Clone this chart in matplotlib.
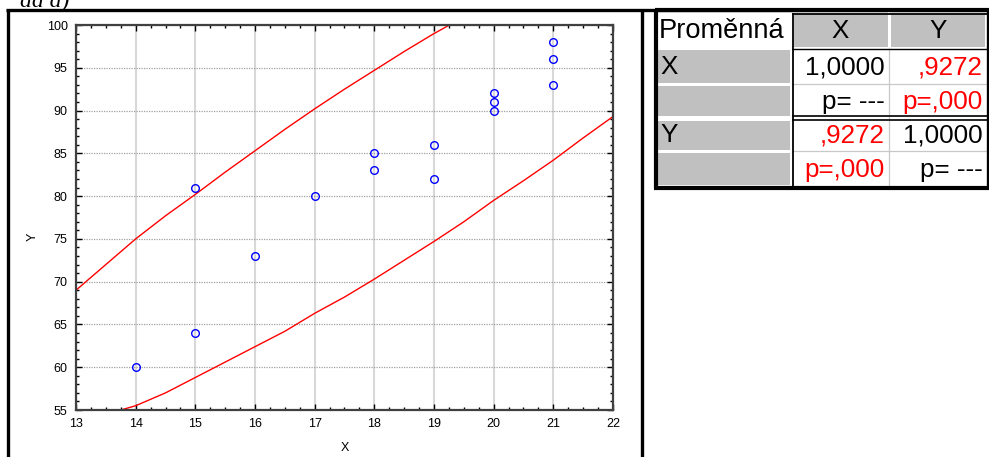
import matplotlib
matplotlib.use("Agg")
import matplotlib.pyplot as plt
from matplotlib.ticker import AutoMinorLocator
from matplotlib.patches import Rectangle
from matplotlib.lines import Line2D

plt.rcParams['font.family'] = ['Liberation Sans', 'DejaVu Sans']

# ---- data ----
x_vals = [14, 15, 15, 16, 17, 18, 18, 19, 19, 20, 20, 20, 21, 21, 21]
y_vals = [60, 64, 81, 73, 80, 83, 85, 82, 86, 90, 91, 92, 93, 96, 98]

upper_x = [13, 13.5, 14, 14.5, 15, 15.5, 16, 16.5, 17, 17.5, 18, 18.5, 19, 19.26]
upper_y = [69.0, 72.0, 75.0, 77.7, 80.2, 82.8, 85.3, 87.8, 90.2, 92.5, 94.7, 96.9, 99.0, 100.0]
lower_x = [13.75, 14, 14.5, 15, 15.5, 16, 16.5, 17, 17.5, 18, 18.5, 19, 19.5, 20, 20.5, 21, 21.5, 22]
lower_y = [55.0, 55.5, 57.0, 58.8, 60.6, 62.4, 64.2, 66.3, 68.2, 70.3, 72.5, 74.7, 77.0, 79.5, 81.8, 84.2, 86.8, 89.3]

x_ticks = [13, 14, 15, 16, 17, 18, 19, 20, 21, 22]
y_ticks = [55, 60, 65, 70, 75, 80, 85, 90, 95, 100]

col_labels = ["Proměnná", "X", "Y"]
row_labels = ["X", "", "Y", ""]
cell_text = [["1,0000", ",9272"],
             ["p= ---", "p=,000"],
             [",9272", "1,0000"],
             ["p=,000", "p= ---"]]
cell_red = [[False, True], [False, True], [True, False], [True, False]]

# ---- figure ----
W, H = 989, 457
fig = plt.figure(figsize=(W / 100, H / 100), dpi=100)

def fx(px):
    return px / W

def fy(py):
    return 1 - py / H

ax = fig.add_axes([fx(76), fy(410), fx(613) - fx(76), fy(25) - fy(410)])
ax.set_xlim(13, 22)
ax.set_ylim(55, 100)
ax.set_xticks(x_ticks)
ax.set_yticks(y_ticks)
ax.xaxis.set_minor_locator(AutoMinorLocator(4))
ax.yaxis.set_minor_locator(AutoMinorLocator(5))
ax.tick_params(which='both', direction='in', top=True, right=True, labelsize=9, colors='black')
ax.tick_params(which='major', length=4, width=1)
ax.tick_params(which='minor', length=2.5, width=1)
ax.tick_params(axis='y', pad=6)
ax.tick_params(axis='x', pad=6)
for s in ax.spines.values():
    s.set_color('#404040')
    s.set_linewidth(1.6)

ax.grid(True, axis='x', color='#d8d8d8', linewidth=1.5, linestyle='-')
ax.grid(True, axis='y', color='#a0a0a0', linewidth=0.9, linestyle=(0, (1, 1)))
ax.set_axisbelow(True)

ax.plot(upper_x, upper_y, color='red', linewidth=1.0)
ax.plot(lower_x, lower_y, color='red', linewidth=1.0)
ax.plot(x_vals, y_vals, linestyle='none', marker='o', markersize=5.5,
        markerfacecolor='none', markeredgecolor='blue', markeredgewidth=1.0)

fig.text(fx(345), fy(448), "X", ha='center', va='center', fontsize=9)
fig.text(fx(33), fy(237), "Y", ha='center', va='center', fontsize=9, rotation=90)

# ---- cut-off caption at top ----
fig.text(fx(20), fy(7), "ad a)", ha='left', va='baseline', fontsize=17,
         family='Liberation Serif', style='italic')

# ---- frame lines ----
def hline(y, x0, x1, lw, color='black'):
    fig.add_artist(Line2D([fx(x0), fx(x1)], [fy(y), fy(y)], color=color, linewidth=lw,
                          solid_capstyle='butt'))

def vline(x, y0, y1, lw, color='black'):
    fig.add_artist(Line2D([fx(x), fx(x)], [fy(y0), fy(y1)], color=color, linewidth=lw,
                          solid_capstyle='butt'))

hline(9.5, 6, 989, 2.4)
vline(7.5, 9, 457, 2.4)
vline(641.5, 9, 457, 2.4)

# ---- table ----
col_edges = [655, 792, 889, 987]
row_edges = [12, 48, 84, 118, 151, 186]

def rect(x0, y0, x1, y1, fc, ec='none', lw=0):
    fig.add_artist(Rectangle((fx(x0), fy(y1)), fx(x1) - fx(x0), fy(y0) - fy(y1),
                             facecolor=fc, edgecolor=ec, linewidth=lw))

grey = '#c0c0c0'
# header grey cells
rect(col_edges[1] + 2, row_edges[0] + 2, col_edges[2] - 1, row_edges[1] - 1, grey)
rect(col_edges[2] + 2, row_edges[0] + 2, col_edges[3] - 2, row_edges[1] - 1, grey)
# label column grey cells
for i in range(4):
    y0 = row_edges[i + 1] + 2
    y1 = row_edges[i + 2] - 1
    if i == 1:
        y1 -= 1
    if i == 2:
        y0 += 1
    rect(col_edges[0] + 3, y0, col_edges[1] - 2, y1, grey)

# light grid lines in value area
hline(84, col_edges[1], col_edges[3], 0.9, '#c8c8c8')
hline(151, col_edges[1], col_edges[3], 0.9, '#c8c8c8')
vline(col_edges[2], row_edges[1], row_edges[5], 0.9, '#c8c8c8')
vline(col_edges[2], row_edges[0], row_edges[1], 1.4, 'white')
# black lines
vline(col_edges[1] + 0.5, row_edges[0] + 1, row_edges[5], 1.3)
hline(row_edges[0] + 1.5, col_edges[1], col_edges[3], 1.3)
hline(48.5, col_edges[1], col_edges[3], 1.0)
hline(116, col_edges[1], col_edges[3], 1.2)
hline(119.5, col_edges[1], col_edges[3], 1.2)
# outer thick border
hline(10, col_edges[0], 989, 3.0)
hline(187.5, col_edges[0] - 1, 989, 3.0)
vline(col_edges[0] + 0.5, 9, 189, 3.0)
vline(987.5, 9, 189, 2.4)

fs = 18.7
fig.text(fx(col_edges[0] + 4), fy((row_edges[0] + row_edges[1]) / 2 + 1), col_labels[0],
         ha='left', va='center', fontsize=19.6)
for j in range(2):
    cx = (col_edges[j + 1] + col_edges[j + 2]) / 2
    fig.text(fx(cx), fy((row_edges[0] + row_edges[1]) / 2 + 1), col_labels[j + 1],
             ha='center', va='center', fontsize=fs)
for i in range(4):
    cy = (row_edges[i + 1] + row_edges[i + 2]) / 2 + 1
    if row_labels[i]:
        fig.text(fx(col_edges[0] + 5), fy(cy), row_labels[i], ha='left', va='center', fontsize=fs)
    for j in range(2):
        fig.text(fx(col_edges[j + 2] - 4), fy(cy), cell_text[i][j], ha='right', va='center',
                 fontsize=fs, color='red' if cell_red[i][j] else 'black')

fig.savefig("out.png", dpi=100)
